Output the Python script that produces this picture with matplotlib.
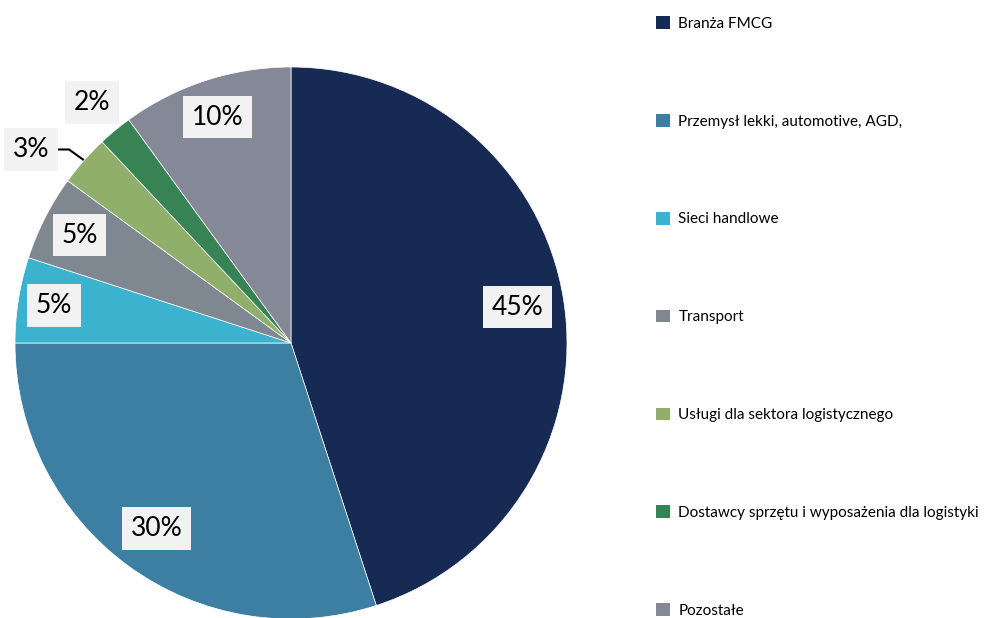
import matplotlib
matplotlib.use("Agg")
import matplotlib.pyplot as plt
from matplotlib.patches import Patch
import numpy as np

categories = ["Branża FMCG", "Przemysł lekki, automotive, AGD,", "Sieci handlowe",
              "Transport", "Usługi dla sektora logistycznego",
              "Dostawcy sprzętu i wyposażenia dla logistyki", "Pozostałe"]
values = [45, 30, 5, 5, 3, 2, 10]
labels = ["45%", "30%", "5%", "5%", "3%", "2%", "10%"]
colors = ["#172a53", "#3d7fa3", "#3bb3cf", "#7f8790", "#8faf6a", "#378354", "#858897"]

plt.rcParams['font.family'] = ['Lato', 'DejaVu Sans']

W, H = 1002, 618
fig = plt.figure(figsize=(W / 100, H / 100), dpi=100)
ax = fig.add_axes([0, 0, 1, 1])

cx, cy, r = 291, H - 343, 276
wedges, _ = ax.pie(values, colors=colors, startangle=90, counterclock=False,
                   center=(cx, cy), radius=r, frame=True,
                   wedgeprops=dict(edgecolor="white", linewidth=0.5))
ax.set_xlim(0, W)
ax.set_ylim(0, H)
ax.set_aspect('equal')
ax.axis('off')

dist = [0.83, 0.83, 0.87, 0.86, None, 1.13, 0.86]
box = dict(boxstyle="square,pad=0.33", facecolor="#f2f2f2", edgecolor="none")
for w, lab, d in zip(wedges, labels, dist):
    mid = np.deg2rad((w.theta1 + w.theta2) / 2)
    if d is None:
        ex, ey = cx + r * np.cos(mid), cy + r * np.sin(mid)
        ty = ey + 11
        ax.plot([ex - 1, ex - 15, ex - 27], [ey + 1, ty, ty], color="black", lw=1.5,
                solid_joinstyle="miter")
        ax.text(ex - 35, ty, lab, ha="right", va="center", fontsize=19, bbox=box)
    else:
        ax.text(cx + d * r * np.cos(mid), cy + d * r * np.sin(mid), lab,
                ha="center", va="center", fontsize=19, bbox=box)

handles = [Patch(facecolor=c, edgecolor="none") for c in colors]
leg = ax.legend(handles, categories, loc="upper left",
                bbox_to_anchor=(650 / W, 1 - 10 / H), frameon=False,
                fontsize=11, handlelength=0.9, handleheight=0.9,
                handletextpad=0.55, labelspacing=5.45, borderaxespad=0)

fig.savefig("out.png", dpi=100)
